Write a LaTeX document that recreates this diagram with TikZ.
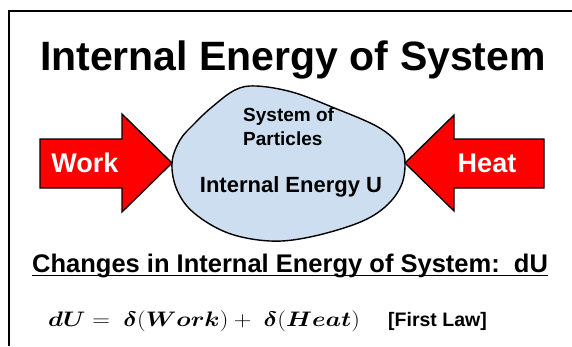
\RequirePackage{fix-cm}
\documentclass[tikz,border=0pt]{standalone}
\usepackage{amsmath}
\usepackage{fontspec}
\setmainfont{Liberation Sans}
\usepackage{tikz}
\usetikzlibrary{positioning, calc}

\definecolor{blobblue}{RGB}{205,222,240}

\begin{document}
\begin{tikzpicture}[x=1pt, y=-1pt]
    \tikzstyle{bigarrow} = [draw=black, line width=1.3pt, fill=red, line join=miter]
    \tikzstyle{arrowtext} = [text=white, font=\fontsize{27}{30}\selectfont\bfseries, anchor=base, inner sep=0pt]
    \tikzstyle{blobtext} = [font=\fontsize{19}{22}\selectfont\bfseries, anchor=base west, inner sep=0pt]
    \tikzstyle{heading} = [font=\fontsize{41}{46}\selectfont\bfseries, anchor=base, inner sep=0pt]
    \tikzstyle{subhead} = [font=\fontsize{25.5}{30}\selectfont\bfseries, anchor=base west, inner sep=0pt]
    \tikzstyle{lawtext} = [font=\fontsize{19}{22}\selectfont, anchor=base west, inner sep=0pt]

    \useasboundingbox (0,0) rectangle (572,346);

    % frame
    \draw[line width=1.8pt] (9,346) -- (9,11) -- (572,11);

    \node (title) [heading] at (293,70) {Internal Energy of System};

    % system blob
    \draw[fill=blobblue, line width=1.4pt] plot[smooth cycle, tension=0.6] coordinates {
        (172,163) (180,140) (195,123) (212,107) (235,90) (256,86) (292,92)
        (332,107) (378,127) (400,146) (405,163) (401,186) (385,207)
        (358,223) (310,237) (270,241) (228,233) (194,213) (177,190)};
    \node (sys) [blobtext] at (243,121) {System of};
    \node (part) [blobtext] at (243,145) {Particles};
    \node (ienergy) [blobtext, font=\fontsize{22}{26}\selectfont\bfseries, anchor=base] at (291,192) {Internal Energy U};

    % work and heat arrows
    \draw[bigarrow] (40,139) -- (122,139) -- (122,114) -- (172,163) -- (122,212) -- (122,188) -- (40,188) -- cycle;
    \draw[bigarrow] (544,139) -- (454,139) -- (454,115) -- (405,163) -- (454,211) -- (454,188) -- (544,188) -- cycle;
    \node (work) [arrowtext] at (85,172) {Work};
    \node (heat) [arrowtext] at (487,172) {Heat};

    % first law
    \node (chg) [subhead] at (32,272) {Changes in Internal Energy of System:\ \ dU};
    \draw[line width=1.5pt] ([yshift=-3.5pt]chg.base west) -- ([yshift=-3.5pt]chg.base east);
    \node (eqn) [lawtext, font=\fontsize{21}{24}\selectfont] at (48,326)
        {\scalebox{1.165}[1]{$\boldsymbol{dU} = \ \boldsymbol{\delta}(\boldsymbol{Work}) + \ \boldsymbol{\delta}(\boldsymbol{Heat})$}};
    \node (law) [lawtext, font=\fontsize{19.5}{22}\selectfont\bfseries] at (388,326) {[First Law]};
\end{tikzpicture}
\end{document}
